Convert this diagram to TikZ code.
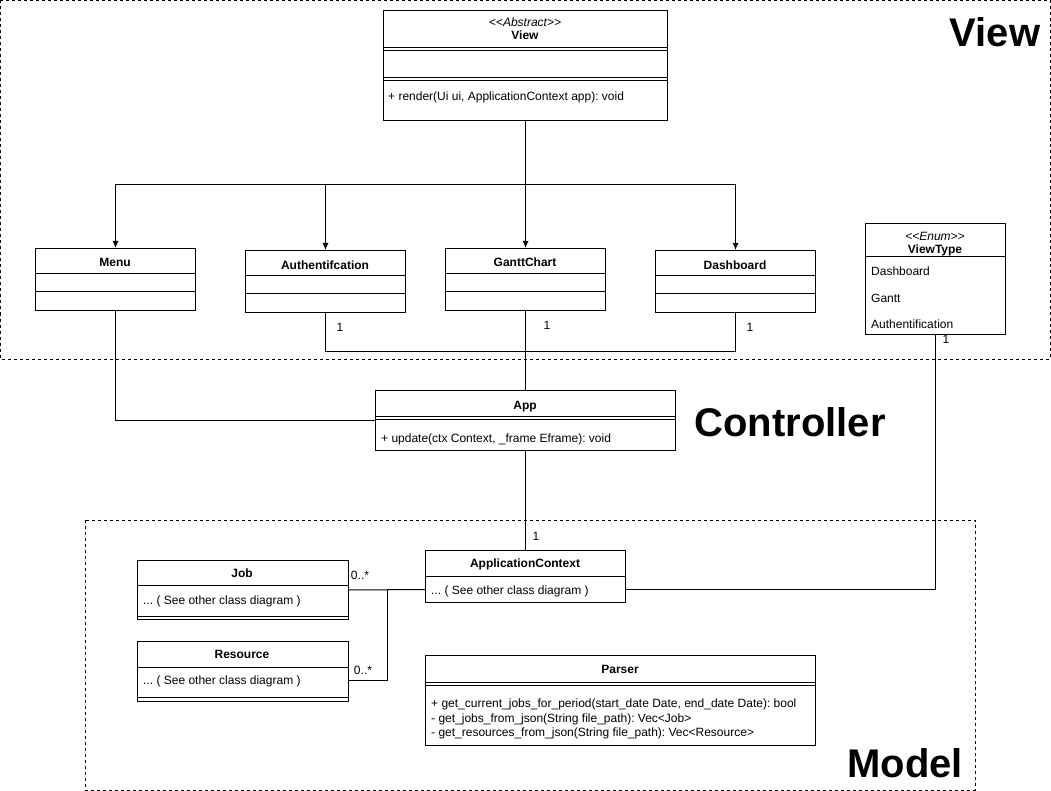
\documentclass[tikz,border=0pt]{standalone}
\usepackage{fontspec}
\setmainfont{Liberation Sans}
\usetikzlibrary{arrows.meta}
\frenchspacing
\newcommand{\stereo}[1]{\textit{<\kern0pt<#1>\kern0pt>}}
\newcommand{\compline}[2]{\draw[line width=1pt] ([yshift=-#2]#1.north west)--([yshift=-#2]#1.north east);}
\tikzset{
  cls/.style={draw,line width=1pt,fill=white,inner sep=0pt,anchor=north west},
  ttl/.style={font=\bfseries\fontsize{12}{14}\selectfont,inner sep=0pt,anchor=base},
  stt/.style={font=\fontsize{12}{14}\selectfont,inner sep=0pt,anchor=base},
  txt/.style={font=\fontsize{12}{14}\selectfont,inner sep=0pt,anchor=base west},
  big/.style={font=\bfseries\fontsize{40}{48}\selectfont,inner sep=0pt,anchor=base},
  region/.style={draw,line width=0.6pt,dash pattern=on 3pt off 3pt},
  link/.style={line width=1pt},
  gen/.style={link,-{Latex[length=7pt,width=6pt]}}
}
\begin{document}
\begin{tikzpicture}[x=1pt,y=-1pt]
  \useasboundingbox (0,0) rectangle (1051,791);
  \draw[region] (0.5,0.5) rectangle (1050,359);
  \draw[region] (85,520) rectangle (975,790);
  \node[big] (lview) at (995,47) {View};
  \node[big] (lctrl) at (790,436) {Controller};
  \node[big] (lmodel) at (905,777) {Model};

  % view layer
  \node[cls,minimum width=284,minimum height=110] (view) at (383,10) {};
  \compline{view}{38}\compline{view}{40.5}\compline{view}{68}\compline{view}{70.5}
  \node[stt] (view-st) at (525,26.5) {\stereo{Abstract}};
  \node[ttl] (view-t) at (525,40) {View};
  \node[txt] (view-m) at (388,100.5) {+ render(Ui ui, ApplicationContext app): void};

  \node[cls,minimum width=160,minimum height=62] (menu) at (35,248) {};
  \compline{menu}{26}\compline{menu}{44}
  \node[ttl] (menu-t) at (115,267) {Menu};
  \node[cls,minimum width=160,minimum height=62] (auth) at (245,250) {};
  \compline{auth}{26}\compline{auth}{44}
  \node[ttl] (auth-t) at (325,269.5) {Authentifcation};
  \node[cls,minimum width=160,minimum height=62] (gantt) at (445,248) {};
  \compline{gantt}{26}\compline{gantt}{44}
  \node[ttl] (gantt-t) at (525,267) {GanttChart};
  \node[cls,minimum width=160,minimum height=62] (dash) at (655,250) {};
  \compline{dash}{26}\compline{dash}{44}
  \node[ttl] (dash-t) at (735,269.5) {Dashboard};

  \node[cls,minimum width=140,minimum height=111] (vtype) at (865,223) {};
  \compline{vtype}{34}
  \node[stt] (vtype-st) at (935,240.5) {\stereo{Enum}};
  \node[ttl] (vtype-t) at (935,254) {ViewType};
  \node[txt] (vtype-a) at (871,276) {Dashboard};
  \node[txt] (vtype-b) at (871,302) {Gantt};
  \node[txt] (vtype-c) at (871,328) {Authentification};

  % controller
  \node[cls,minimum width=300,minimum height=60] (app) at (375,390) {};
  \compline{app}{26}\compline{app}{29}
  \node[ttl] (app-t) at (525,409.5) {App};
  \node[txt] (app-m) at (381,442.5) {+ update(ctx Context, \_frame Eframe): void};

  % model
  \node[cls,minimum width=200,minimum height=52] (ctx) at (425,550) {};
  \compline{ctx}{26}
  \node[ttl] (ctx-t) at (525,567.5) {ApplicationContext};
  \node[txt] (ctx-a) at (431,594.5) {... ( See other class diagram )};
  \node[cls,minimum width=211,minimum height=59] (job) at (137,560) {};
  \compline{job}{25}\compline{job}{56}
  \node[ttl] (job-t) at (242,577.5) {Job};
  \node[txt] (job-a) at (143,604.5) {... ( See other class diagram )};
  \node[cls,minimum width=211,minimum height=60] (res) at (137,641) {};
  \compline{res}{26}\compline{res}{56.5}
  \node[ttl] (res-t) at (242,658.5) {Resource};
  \node[txt] (res-a) at (143,684.5) {... ( See other class diagram )};
  \node[cls,minimum width=390,minimum height=90] (parser) at (425,655) {};
  \compline{parser}{27}\compline{parser}{30}
  \node[ttl] (parser-t) at (620,673.5) {Parser};
  \node[txt] (parser-a) at (431,707.5) {+ get\_current\_jobs\_for\_period(start\_date Date, end\_date Date): bool};
  \node[txt] (parser-b) at (431,722) {- get\_jobs\_from\_json(String file\_path): Vec<Job>};
  \node[txt] (parser-c) at (431,736.5) {- get\_resources\_from\_json(String file\_path): Vec<Resource>};

  % connectors
  \draw[link] (view.south)--++(0,64) coordinate (bus);
  \draw[gen] (bus)-|(menu.north);
  \draw[gen] (bus)-|(auth.north);
  \draw[gen] (bus)--(gantt.north);
  \draw[gen] (bus)-|(dash.north);
  \draw[link] (menu.south)|-(app.west);
  \draw[link] (auth.south)--++(0,38)-|(dash.south);
  \draw[link] (gantt.south)--(app.north);
  \draw[link] (app.south)--(ctx.north);
  \draw[link] (vtype.south)|-([yshift=-13pt]ctx.east);
  \draw[link] (job.east)--([yshift=-13pt]ctx.west);
  \coordinate (jn) at (387,589.5);
  \draw[link] ([yshift=-9pt]res.east)-|(jn);
  \node[stt] (m1) at (340,331.5) {1};
  \node[stt] (m2) at (750,331.5) {1};
  \node[stt] (m3) at (547,329.5) {1};
  \node[stt] (m4) at (536,540.5) {1};
  \node[stt] (m5) at (946,343.5) {1};
  \node[stt] (m6) at (360,579.5) {0..*};
  \node[stt] (m7) at (363,674.5) {0..*};
\end{tikzpicture}
\end{document}
